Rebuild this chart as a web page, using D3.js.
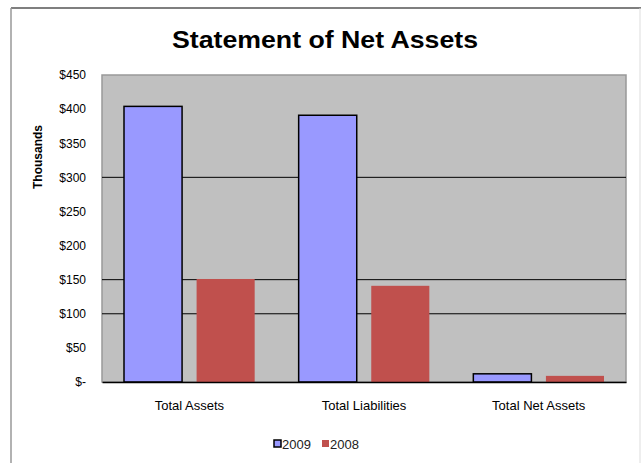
<!DOCTYPE html>
<html>
<head>
<meta charset="utf-8">
<script src="https://cdn.jsdelivr.net/npm/d3@7"></script>
<style>
  body { margin: 0; background: #fff; }
  text { font-family: "Liberation Sans", Arial, sans-serif; }
</style>
</head>
<body>
<div id="chart"></div>
<script>
var categories = ["Total Assets", "Total Liabilities", "Total Net Assets"];
var seriesNames = ["2009", "2008"];
var values2009 = [404, 391, 12];
var values2008 = [151, 141, 9];
var yTicks = [0, 50, 100, 150, 200, 250, 300, 350, 400, 450];
var gridTicks = [100, 150, 300];

var W = 641, H = 463,
    margin = {top: 75, right: 15, bottom: 81, left: 102},
    width = 626 - margin.left,
    height = 382 - margin.top;

var colors = {"2009": "#9999ff", "2008": "#c0504d"};

var data = categories.map(function(c, i) {
  return {cat: c, "2009": values2009[i], "2008": values2008[i]};
});

var svg = d3.select("#chart").append("svg")
    .attr("width", W)
    .attr("height", H);

// outer chart border
svg.append("line").attr("x1", 11).attr("x2", 641).attr("y1", 8).attr("y2", 8)
    .attr("stroke", "#555").attr("stroke-width", 1.5);
svg.append("line").attr("x1", 11).attr("x2", 11).attr("y1", 8).attr("y2", H)
    .attr("stroke", "#999").attr("stroke-width", 1.5);
svg.append("line").attr("x1", 640).attr("x2", 640).attr("y1", 8).attr("y2", H)
    .attr("stroke", "#ddd").attr("stroke-width", 1);

var g = svg.append("g")
    .attr("transform", "translate(" + margin.left + "," + margin.top + ")");

var x0 = d3.scaleBand().domain(categories).range([0, width]).paddingInner(0).paddingOuter(0);
var x1 = d3.scaleBand().domain(seriesNames).range([22, x0.bandwidth() - 22]).paddingInner(0.2);
var y = d3.scaleLinear().domain([0, 450]).range([height, 0]);

// plot background
g.append("rect")
    .attr("width", width).attr("height", height)
    .attr("fill", "#c0c0c0")
    .attr("stroke", "#999").attr("stroke-width", 1.5);

// gridlines
g.selectAll(".grid").data(gridTicks).enter().append("line")
    .attr("x1", 0).attr("x2", width)
    .attr("y1", function(d) { return y(d); })
    .attr("y2", function(d) { return y(d); })
    .attr("stroke", "#000").attr("stroke-width", 1);

var groups = g.selectAll(".grp").data(data).enter().append("g")
    .attr("transform", function(d) { return "translate(" + x0(d.cat) + ",0)"; });

groups.selectAll("rect")
    .data(function(d) { return seriesNames.map(function(k) { return {key: k, value: d[k]}; }); })
  .enter().append("rect")
    .attr("x", function(d) { return x1(d.key); })
    .attr("y", function(d) { return y(d.value); })
    .attr("width", x1.bandwidth())
    .attr("height", function(d) { return y(0) - y(d.value); })
    .attr("fill", function(d) { return colors[d.key]; })
    .attr("stroke", function(d) { return d.key === "2009" ? "#000" : "none"; })
    .attr("stroke-width", 1.5);

// x axis
var xAxis = g.append("g")
    .attr("transform", "translate(0," + height + ")")
    .call(d3.axisBottom(x0).tickSize(0).tickPadding(19));
xAxis.select(".domain").attr("stroke", "#000").attr("stroke-width", 1.5);
xAxis.selectAll("text").attr("font-size", 13).attr("fill", "#000")
    .style("font-family", "'Liberation Sans', Arial, sans-serif");

// y axis
var yAxis = g.append("g")
    .call(d3.axisLeft(y).tickValues(yTicks).tickSize(0).tickPadding(16)
      .tickFormat(function(d) { return d === 0 ? "$-" : "$" + d; }));
yAxis.select(".domain").remove();
yAxis.selectAll("text").attr("font-size", 12).attr("fill", "#000")
    .style("font-family", "'Liberation Sans', Arial, sans-serif");

// title
svg.append("text")
    .attr("x", 325).attr("y", 48)
    .attr("text-anchor", "middle")
    .attr("font-size", 24).attr("font-weight", "bold")
    .attr("textLength", 306).attr("lengthAdjust", "spacingAndGlyphs")
    .text("Statement of Net Assets");

// y label
svg.append("text")
    .attr("transform", "translate(42,157) rotate(-90)")
    .attr("text-anchor", "middle")
    .attr("font-size", 12).attr("font-weight", "bold")
    .text("Thousands");

// legend
var legend = svg.selectAll(".legend").data(seriesNames).enter().append("g")
    .attr("transform", function(d, i) { return "translate(" + (274 + i * 48) + ",444)"; });
legend.append("rect")
    .attr("x", 0).attr("y", -4).attr("width", 7).attr("height", 7)
    .attr("fill", function(d) { return colors[d]; })
    .attr("stroke", function(d) { return d === "2009" ? "#000" : "none"; })
    .attr("stroke-width", 1.5);
legend.append("text")
    .attr("x", 8).attr("y", 0).attr("dy", "0.35em")
    .attr("font-size", 13).attr("fill", "#222")
    .text(function(d) { return d; });
</script>
</body>
</html>
